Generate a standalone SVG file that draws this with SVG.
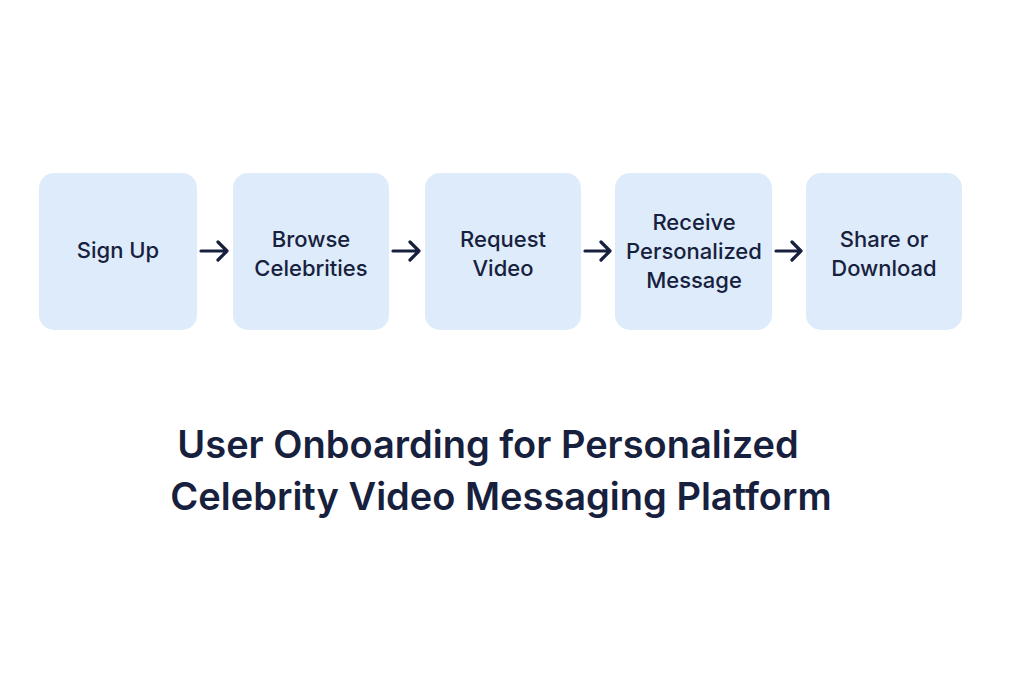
<svg xmlns="http://www.w3.org/2000/svg" width="1024" height="683" viewBox="0 0 1024 683">
<defs>
<style>
.box{fill:#ddebfa}
.t{font-family:Inter,"Noto Sans",sans-serif;font-size:22px;font-weight:500;fill:#17213d;text-anchor:middle}
.h{font-family:Inter,"Noto Sans",sans-serif;font-size:38px;font-weight:600;fill:#17213d;text-anchor:middle}
.c{stroke:#17213d;stroke-width:3.2;fill:none;stroke-linecap:round;stroke-linejoin:round}
</style>
</defs>
<rect width="1024" height="683" fill="#ffffff"/>
<g id="n1"><rect class="box" x="39" y="173" width="158" height="157" rx="15"/><text class="t" x="118" y="258">Sign Up</text></g>
<g id="n2"><rect class="box" x="233" y="173" width="156" height="157" rx="15"/><text class="t" x="311" y="247">Browse</text><text class="t" x="311" y="276">Celebrities</text></g>
<g id="n3"><rect class="box" x="425" y="173" width="156" height="157" rx="15"/><text class="t" x="503" y="247">Request</text><text class="t" x="503" y="276">Video</text></g>
<g id="n4"><rect class="box" x="615" y="173" width="157" height="157" rx="15"/><text class="t" x="694" y="230">Receive</text><text class="t" x="694" y="259">Personalized</text><text class="t" x="694" y="288">Message</text></g>
<g id="n5"><rect class="box" x="806" y="173" width="156" height="157" rx="15"/><text class="t" x="884" y="247">Share or</text><text class="t" x="884" y="276">Download</text></g>
<g id="connectors">
<path class="c" d="M201 251H227M218 242L227 251L218 260"/>
<path class="c" d="M393 251H419M410 242L419 251L410 260"/>
<path class="c" d="M585 251H610M601 242L610 251L601 260"/>
<path class="c" d="M776 251H801M792 242L801 251L792 260"/>
</g>
<text class="h" x="488" y="458">User Onboarding for Personalized</text>
<text class="h" x="501" y="510">Celebrity Video Messaging Platform</text>
</svg>
